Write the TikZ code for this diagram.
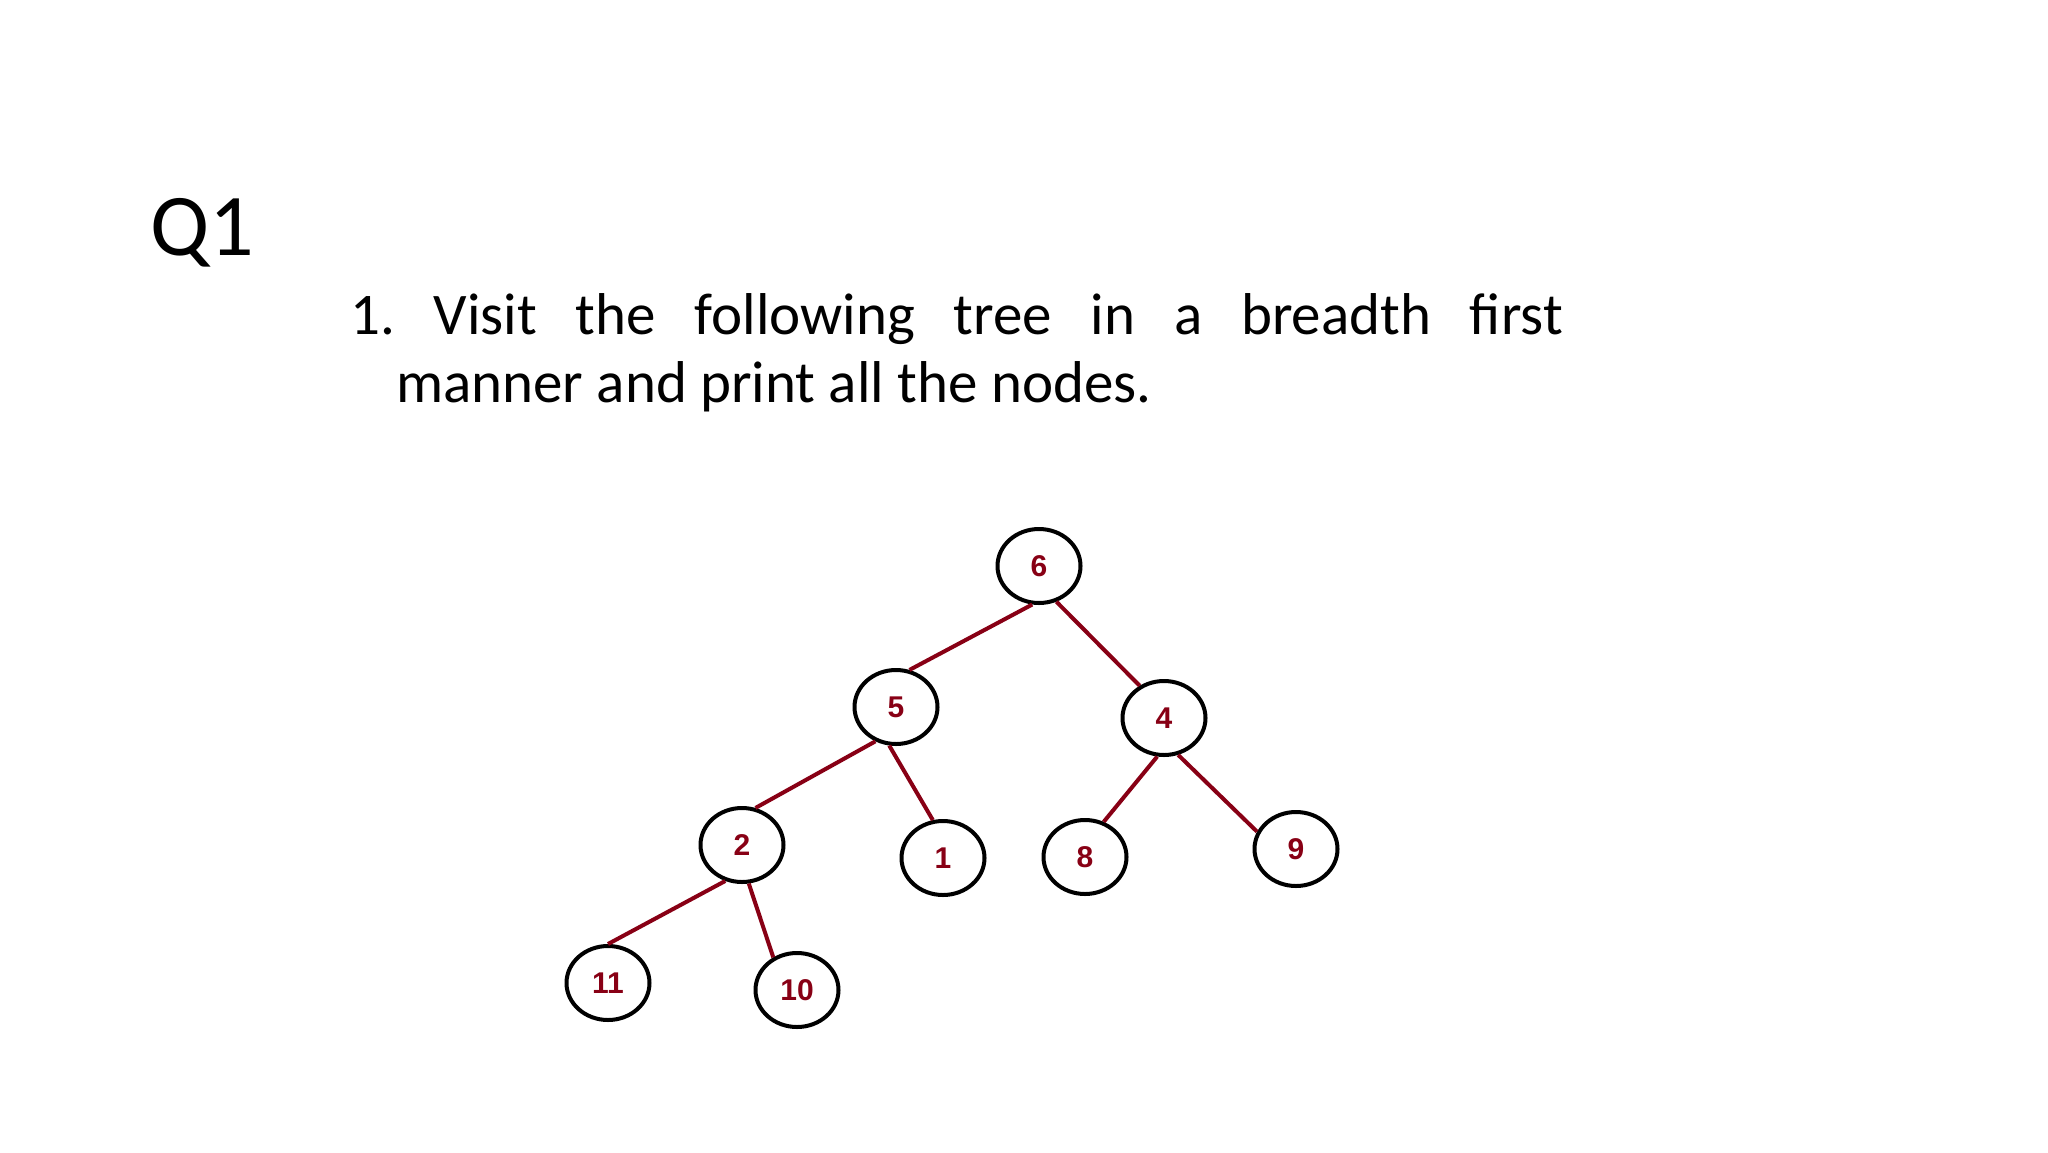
\documentclass[tikz,border=0pt]{standalone}
\usepackage{fontspec}
\setmainfont{Carlito}
\newfontfamily\digitfont{Liberation Sans}
\usetikzlibrary{shapes.geometric}
\definecolor{paintred}{RGB}{136,0,21}

\begin{document}
\begin{tikzpicture}[
    x=1pt, y=-1pt,
    % heading "Q1"
    heading/.style={font=\fontsize{88}{88}\selectfont, anchor=base west, inner sep=0pt},
    % question text
    question/.style={font=\fontsize{59}{69}\selectfont, anchor=base west, inner sep=0pt},
    % tree node (hand drawn ellipse)
    treenode/.style={draw=black, line width=4pt, ellipse, minimum width=83pt,
        minimum height=74pt, inner sep=0pt, fill=white, text=paintred,
        font=\digitfont\bfseries\fontsize{30}{30}\selectfont},
    % branch between two nodes
    branch/.style={draw=paintred, line width=4pt}
]

    % 1. page frame
    \useasboundingbox (0,0) rectangle (2048,1152);

    % 2. texts
    \node[heading] (q1) at (150,255) {Q1};
    \node[question] (line1) at (350,334)
        {\makebox[1213pt][s]{1.\ Visit the following tree in a breadth first}};
    \node[question] (line2) at (396,402) {manner and print all the nodes.};

    % 3. tree nodes
    \node[treenode] (n6)  at (1039,566) {6};
    \node[treenode] (n5)  at (896,707)  {5};
    \node[treenode] (n4)  at (1164,718) {4};
    \node[treenode] (n2)  at (742,845)  {2};
    \node[treenode] (n1)  at (943,858)  {1};
    \node[treenode] (n8)  at (1085,857) {8};
    \node[treenode] (n9)  at (1296,849) {9};
    \node[treenode] (n11) at (608,983)  {11};
    \node[treenode] (n10) at (797,990)  {10};

    % 4. branches
    \draw[branch] (n6.-100) -- (n5.70);
    \draw[branch] (n6.-64)  -- (n4.127);
    \draw[branch] (n5.-121) -- (n2.70);
    \draw[branch] (n5.-100) -- (n1.105);
    \draw[branch] (n4.-100) -- (n8.62);
    \draw[branch] (n4.-69)  -- (n9.156);
    \draw[branch] (n2.-115) -- (n11.90);
    \draw[branch] (n2.-80)  -- (n10.126);

\end{tikzpicture}
\end{document}
